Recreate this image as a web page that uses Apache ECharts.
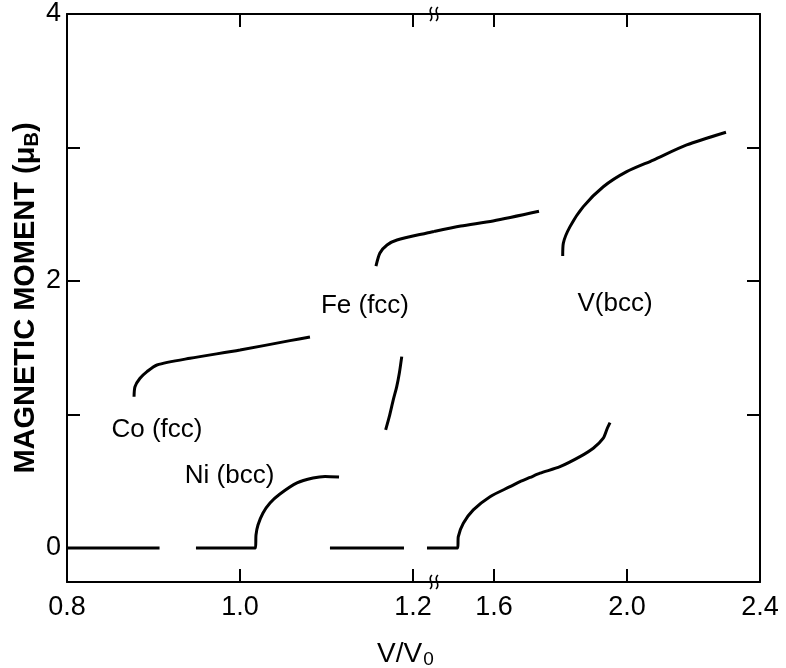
<!DOCTYPE html>
<html>
<head>
<meta charset="utf-8">
<script src="https://cdn.jsdelivr.net/npm/echarts@6/dist/echarts.min.js"></script>
<style>html,body{margin:0;padding:0;background:#fff}#c{width:786px;height:668px}</style>
</head>
<body>
<div id="c"></div>
<script>
// ---- axis ranges (V/V0 axis broken between the two panels) ----
const leftRange = [0.8, 1.2243];
const rightRange = [1.4195, 2.4];
const yRange = [-0.255, 4];
const leftTickLabels = [0.8, 1.0, 1.2];
const leftTicks = [1.0, 1.2];
const rightTickLabels = [1.6, 2.0, 2.4];
const rightTicks = [1.6, 2.0];
const yTickLabels = [0, 2, 4];
const yTicks = [0, 1, 2, 3, 4];
const yTicksRight = [1, 2, 3];

// ---- curves, [V/V0, moment (muB)] ----
const coZero = [[0.8, 0], [0.907, 0]];
const coMoment = [[0.8775, 1.133], [0.8786, 1.208], [0.8844, 1.271], [0.8925, 1.321], [0.904, 1.371],
  [0.9422, 1.421], [1.0, 1.483], [1.0578, 1.553], [1.0809, 1.581]];
const niMoment = [[0.9491, 0], [1.0179, 0], [1.0185, 0.097], [1.0208, 0.172], [1.0266, 0.262], [1.0347, 0.337],
  [1.0462, 0.404], [1.0659, 0.487], [1.0844, 0.524], [1.0983, 0.536], [1.1145, 0.532]];
const feZero = [[1.104, 0], [1.1896, 0]];
const feLow = [[1.1684, 0.884], [1.1726, 0.983], [1.1772, 1.109], [1.1812, 1.208], [1.1842, 1.308], [1.187, 1.433]];
const feHighLeft = [[1.1572, 2.112], [1.1618, 2.21], [1.170, 2.27], [1.1815, 2.307], [1.2162, 2.36], [1.2243, 2.371]];
const feHighRight = [[1.4195, 2.371], [1.5, 2.412], [1.597, 2.45], [1.7353, 2.5225]];
const vZeroLeft = [[1.2162, 0], [1.2243, 0]];
const vLow = [[1.4195, 0], [1.4908, 0], [1.4926, 0.085], [1.5077, 0.185], [1.5377, 0.285], [1.588, 0.384],
  [1.6481, 0.459], [1.6782, 0.497], [1.7083, 0.528], [1.7383, 0.56], [1.7985, 0.609], [1.8586, 0.684],
  [1.8986, 0.747], [1.9287, 0.822], [1.9408, 0.897], [1.9489, 0.939]];
const vHigh = [[1.8066, 2.187], [1.8084, 2.282], [1.8286, 2.407], [1.8686, 2.557], [1.9287, 2.706],
  [1.9991, 2.819], [2.0791, 2.906], [2.1796, 3.019], [2.2977, 3.114]];

// ---- annotations ----
const leftNotes = [[0.904, 0.884, 'Co (fcc)'], [0.988, 0.539, 'Ni (bcc)'], [1.1445, 1.813, 'Fe (fcc)']];
const rightNotes = [[1.964, 1.828, 'V(bcc)']];

const INK = '#000';
const FONT = 'Liberation Sans';
const chart = echarts.init(document.getElementById('c'), null, {renderer: 'canvas'});

function lineSeries(data, axisIdx, smooth) {
  return {
    type: 'line', data: data, xAxisIndex: axisIdx, yAxisIndex: axisIdx,
    showSymbol: false, symbol: 'none', smooth: smooth ? 0.25 : false,
    lineStyle: {color: INK, width: 3}, silent: true, z: 3
  };
}
function noteSeries(data, axisIdx) {
  return {
    type: 'scatter', data: data, xAxisIndex: axisIdx, yAxisIndex: axisIdx,
    symbolSize: 0, silent: true, itemStyle: {opacity: 1, color: INK},
    label: {show: true, position: 'inside', formatter: p => p.data[2],
      color: INK, opacity: 1, fontFamily: FONT, fontSize: 26}
  };
}
function squiggle(x, y) {
  return [-3, 3].map(dx => ({
    type: 'bezierCurve', silent: true, z: 10,
    shape: {x1: x + dx + 1, y1: y - 7, cpx1: x + dx - 5, cpy1: y - 2, cpx2: x + dx + 5, cpy2: y + 2, x2: x + dx - 1, y2: y + 7},
    style: {stroke: INK, lineWidth: 1.6, fill: null}
  }));
}
const tickStyle = {show: true, inside: true, length: 13, lineStyle: {color: INK, width: 2}};
const lineStyleAxis = {show: true, onZero: false, lineStyle: {color: INK, width: 2}};
const labelStyle = {color: INK, fontFamily: FONT, fontSize: 27};

const option = {
  backgroundColor: '#fff',
  animation: false,
  grid: [
    {left: 67, right: 352, top: 14, bottom: 86},
    {left: 434, right: 26, top: 14, bottom: 86}
  ],
  xAxis: [
    {type: 'value', gridIndex: 0, min: leftRange[0], max: leftRange[1], position: 'bottom',
      axisLine: lineStyleAxis, splitLine: {show: false},
      axisTick: Object.assign({customValues: leftTicks}, tickStyle),
      axisLabel: Object.assign({customValues: leftTickLabels, margin: 12, formatter: v => v.toFixed(1)}, labelStyle)},
    {type: 'value', gridIndex: 1, min: rightRange[0], max: rightRange[1], position: 'bottom',
      axisLine: lineStyleAxis, splitLine: {show: false},
      axisTick: Object.assign({customValues: rightTicks}, tickStyle),
      axisLabel: Object.assign({customValues: rightTickLabels, margin: 12, formatter: v => v.toFixed(1)}, labelStyle)},
    {type: 'value', gridIndex: 0, min: leftRange[0], max: leftRange[1], position: 'top',
      axisLine: lineStyleAxis, splitLine: {show: false},
      axisTick: Object.assign({customValues: leftTicks}, tickStyle), axisLabel: {show: false}},
    {type: 'value', gridIndex: 1, min: rightRange[0], max: rightRange[1], position: 'top',
      axisLine: lineStyleAxis, splitLine: {show: false},
      axisTick: Object.assign({customValues: rightTicks}, tickStyle), axisLabel: {show: false}}
  ],
  yAxis: [
    {type: 'value', gridIndex: 0, min: yRange[0], max: yRange[1], position: 'left',
      axisLine: lineStyleAxis, splitLine: {show: false},
      axisTick: Object.assign({customValues: yTicks}, tickStyle),
      axisLabel: Object.assign({customValues: yTickLabels, margin: 6, formatter: v => String(v)}, labelStyle),
      name: 'MAGNETIC MOMENT (μ{s|B})', nameLocation: 'middle', nameRotate: 90, nameGap: 24,
      nameTextStyle: {color: INK, fontFamily: FONT, fontWeight: 'bold', fontSize: 29,
        rich: {s: {fontFamily: FONT, fontWeight: 'bold', fontSize: 20, color: INK, padding: [12, 0, 0, 0]}}}},
    {type: 'value', gridIndex: 1, min: yRange[0], max: yRange[1], position: 'right',
      axisLine: lineStyleAxis, splitLine: {show: false},
      axisTick: Object.assign({customValues: yTicksRight}, tickStyle), axisLabel: {show: false}}
  ],
  series: [
    lineSeries(coZero, 0), lineSeries(coMoment, 0, true), lineSeries(niMoment, 0, true),
    lineSeries(feZero, 0), lineSeries(feLow, 0, true), lineSeries(feHighLeft, 0, true),
    lineSeries(vZeroLeft, 0),
    lineSeries(feHighRight, 1, true), lineSeries(vLow, 1, true), lineSeries(vHigh, 1, true),
    noteSeries(leftNotes, 0), noteSeries(rightNotes, 1)
  ],
  graphic: [
    {type: 'text', left: 377, top: 640, silent: true,
      style: {text: 'V/V{s|0}', fill: INK, font: '28px "Liberation Sans"',
        rich: {s: {fontSize: 19, fontFamily: FONT, fill: INK, padding: [11, 0, 0, 1]}}}}
  ].concat(squiggle(434, 14), squiggle(434, 582))
};
chart.setOption(option);
</script>
</body>
</html>
